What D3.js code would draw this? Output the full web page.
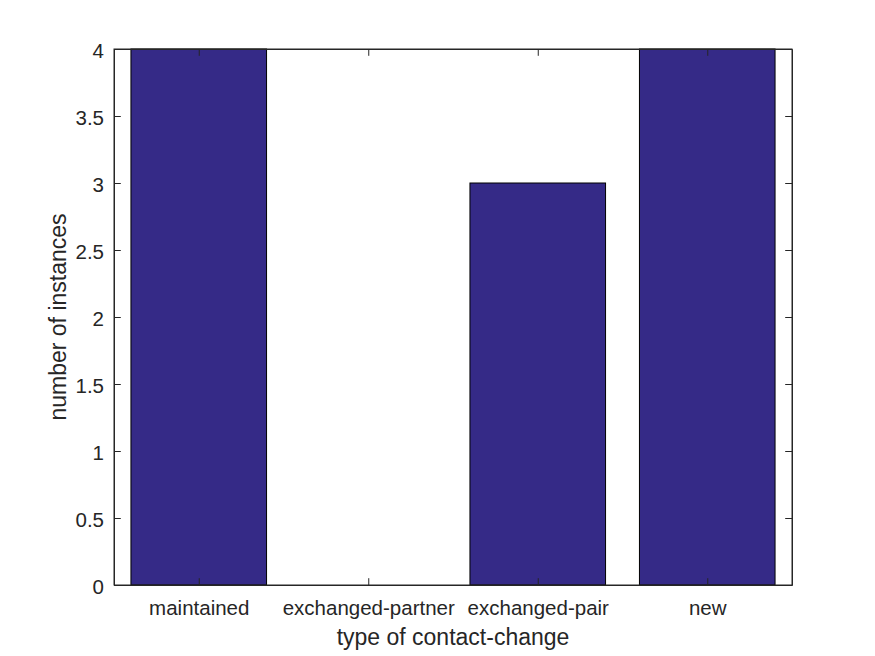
<!DOCTYPE html>
<html>
<head>
<meta charset="utf-8">
<script src="https://cdn.jsdelivr.net/npm/d3@7"></script>
<style>
  body { margin: 0; background: #fff; }
  text { font-family: "Liberation Sans", Arial, Helvetica, sans-serif; fill: #262626; }
</style>
</head>
<body>
<div id="vis"></div>
<script>
const categorias = ["maintained", "exchanged-partner", "exchanged-pair", "new"];
const valores = [4, 0, 3, 4];
const ticksY = [0, 0.5, 1, 1.5, 2, 2.5, 3, 3.5, 4];

const WIDTH = 875;
const HEIGHT = 656;
const margen = { left: 114, right: 83, top: 49, bottom: 71 };

const SVG = d3.select("#vis").append("svg")
  .attr("width", WIDTH)
  .attr("height", HEIGHT);

const ancho = WIDTH - margen.left - margen.right;
const alto = HEIGHT - margen.top - margen.bottom;

const g = SVG.append("g")
  .attr("transform", `translate(${margen.left},${margen.top})`);

// escala x continua como en matlab: categorias en 1..4, limites 0.5..4.5
const escalaX = d3.scaleLinear().domain([0.5, 4.5]).range([0, ancho]);
const escalaY = d3.scaleLinear().domain([0, 4]).range([alto, 0]);
const anchoBarra = escalaX(1.4) - escalaX(0.6);

g.selectAll(".barra")
  .data(valores)
  .join("rect")
  .attr("class", "barra")
  .attr("x", (d, i) => escalaX(i + 1) - anchoBarra / 2)
  .attr("y", d => escalaY(d))
  .attr("width", anchoBarra)
  .attr("height", d => escalaY(0) - escalaY(d))
  .attr("fill", d => d > 0 ? "#352a87" : "none")
  .attr("stroke", d => d > 0 ? "#000" : "none")
  .attr("stroke-width", 1);

const largoTick = 6.8;
const fuenteTick = "20.5px";

// eje x abajo
const ejeX = d3.axisBottom(escalaX)
  .tickValues([1, 2, 3, 4])
  .tickFormat((d, i) => categorias[i])
  .tickSizeInner(-largoTick)
  .tickSizeOuter(0)
  .tickPadding(15);
g.append("g")
  .attr("transform", `translate(0,${alto})`)
  .call(ejeX)
  .call(a => a.selectAll("text").style("font-size", fuenteTick).attr("fill", "#262626"));

// eje x arriba (solo ticks)
g.append("g")
  .call(d3.axisTop(escalaX).tickValues([1, 2, 3, 4]).tickFormat("").tickSizeInner(-largoTick).tickSizeOuter(0));

// eje y izquierda
const ejeY = d3.axisLeft(escalaY)
  .tickValues(ticksY)
  .tickFormat(d3.format("~g"))
  .tickSizeInner(-largoTick)
  .tickSizeOuter(0);
g.append("g")
  .call(ejeY)
  .call(a => a.selectAll("text").style("font-size", fuenteTick).attr("fill", "#262626")
    .attr("x", -10).attr("dy", "0.4em"));

// eje y derecha (solo ticks)
g.append("g")
  .attr("transform", `translate(${ancho},0)`)
  .call(d3.axisRight(escalaY).tickValues(ticksY).tickFormat("").tickSizeInner(-largoTick).tickSizeOuter(0));

g.selectAll(".domain, .tick line").attr("stroke", "#262626");

// caja
g.append("rect")
  .attr("width", ancho)
  .attr("height", alto)
  .attr("fill", "none")
  .attr("stroke", "#262626")
  .attr("stroke-width", 1);

// titulos de ejes
SVG.append("text")
  .attr("x", margen.left + ancho / 2)
  .attr("y", 645)
  .attr("text-anchor", "middle")
  .style("font-size", "23px")
  .text("type of contact-change");

SVG.append("text")
  .attr("transform", `translate(66,${margen.top + alto / 2}) rotate(-90)`)
  .attr("text-anchor", "middle")
  .style("font-size", "23px")
  .text("number of instances");
</script>
</body>
</html>
